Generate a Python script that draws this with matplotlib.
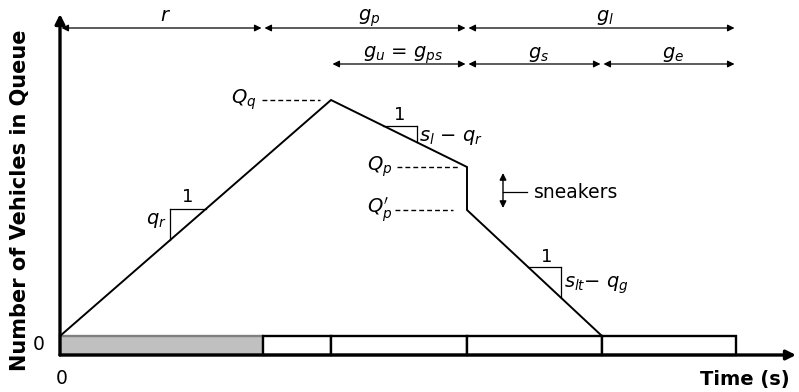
import matplotlib
matplotlib.use("Agg")
import matplotlib.pyplot as plt

plt.rcParams['font.family'] = ['DejaVu Sans']
plt.rcParams['mathtext.fontset'] = 'dejavusans'

# ---- data (time in arbitrary units, queue in vehicles) ----
phase_bounds = [0, 20.3, 40.7, 67.6]          # r | g_p | g_l
phase_labels = [r'$r$', r'$g_p$', r'$g_l$']
sub_bounds = [27.1, 40.7, 54.2, 67.6]          # g_u=g_ps | g_s | g_e
sub_labels = [r'$g_u$ = $g_{ps}$', r'$g_s$', r'$g_e$']
queue_t = [0, 27.1, 40.7, 40.7, 54.2]
queue_n = [0, 23.6, 16.9, 12.6, 0]
bar_edges = [0, 20.3, 27.1, 40.7, 54.2, 67.6]
bar_colors = ['#c0c0c0', 'white', 'white', 'white', 'white']
level_labels = [r'$Q_q$', r'$Q_p$', r"$Q_p^{\prime}$"]
level_values = [23.6, 16.9, 12.6]

fig = plt.figure(figsize=(7.99, 3.92), dpi=100)
ax = fig.add_axes([0, 0, 1, 1])
ax.set_xlim(-6.0, 73.9)
ax.set_ylim(-5.6, 33.6)
ax.axis('off')

bar_h = 1.9
# signal bars
for i in range(len(bar_edges) - 1):
    ec = '#808080' if i == 0 else 'black'
    ax.bar(bar_edges[i], bar_h, width=bar_edges[i + 1] - bar_edges[i], bottom=-bar_h,
           align='edge', color=bar_colors[i], edgecolor=ec, linewidth=1.7, zorder=2)

# axes arrows
ax.annotate('', xy=(0, 32.2), xytext=(0, -bar_h),
            arrowprops=dict(arrowstyle='-|>', lw=2.4, color='black', mutation_scale=14,
                            shrinkA=0, shrinkB=0), zorder=5)
ax.annotate('', xy=(73.6, -bar_h), xytext=(0, -bar_h),
            arrowprops=dict(arrowstyle='-|>', lw=2.4, color='black', mutation_scale=14,
                            shrinkA=0, shrinkB=0), zorder=5)

# queue polygon
ax.plot(queue_t, queue_n, color='black', lw=1.4, zorder=4, solid_joinstyle='miter')

# dimension arrows
def dim_row(bounds, labels, y, ty):
    for i in range(len(bounds) - 1):
        a, b = bounds[i], bounds[i + 1]
        ax.annotate('', xy=(b - 0.15, y), xytext=(a + 0.15, y),
                    arrowprops=dict(arrowstyle='<|-|>', lw=0.9, color='black',
                                    mutation_scale=10, shrinkA=0, shrinkB=0))
        ax.text((a + b) / 2 + 0.4, ty, labels[i], ha='center', va='baseline', fontsize=14)

dim_row(phase_bounds, phase_labels, 30.8, 31.5)
dim_row(sub_bounds, sub_labels, 27.2, 27.85)

# dashed level lines and labels
dash_x = [(20.2, 26.0), (33.7, 39.8), (33.5, 39.3)]
lab_x = [19.6, 33.2, 33.2]
for (x0, x1), v, lab, lx in zip(dash_x, level_values, level_labels, lab_x):
    ax.plot([x0, x1], [v, v], color='black', lw=1.0, ls=(0, (3.5, 2.2)))
    ax.text(lx, v, lab, ha='right', va='center', fontsize=14)

# slope triangles
def slope_tri(t0, n0, t1, n1, xa, xb, one_xy, lab, lab_xy, vert_at_left):
    s = (n1 - n0) / (t1 - t0)
    ya = n0 + s * (xa - t0)
    yb = n0 + s * (xb - t0)
    ytop = max(ya, yb)
    ybot = min(ya, yb)
    xv = xa if vert_at_left else xb
    ax.plot([xa, xb], [ytop, ytop], color='black', lw=0.9)
    ax.plot([xv, xv], [ytop, ybot], color='black', lw=0.9)
    ax.text(one_xy[0], one_xy[1], '1', ha='center', va='center', fontsize=13)
    ax.text(lab_xy[0], lab_xy[1], lab, ha=('right' if vert_at_left else 'left'),
            va='center', fontsize=14)

slope_tri(queue_t[0], queue_n[0], queue_t[1], queue_n[1], 11.0, 14.6,
          (12.8, 13.9), r'$q_r$', (10.7, 11.6), True)
slope_tri(queue_t[1], queue_n[1], queue_t[2], queue_n[2], 32.3, 35.7,
          (34.0, 22.1), r'$s_l$ $-$ $q_r$', (35.9, 19.9), False)
slope_tri(queue_t[3], queue_n[3], queue_t[4], queue_n[4], 46.8, 50.1,
          (48.7, 7.9), r'$s_{lt}$$-$ $q_g$', (50.4, 5.1), False)

# sneakers
ax.annotate('', xy=(44.3, 12.8), xytext=(44.3, 16.3),
            arrowprops=dict(arrowstyle='<|-|>', lw=1.0, color='black',
                            mutation_scale=10, shrinkA=0, shrinkB=0))
ax.plot([44.3, 46.7], [14.4, 14.4], color='black', lw=0.9)
ax.text(47.4, 14.4, 'sneakers', ha='left', va='center', fontsize=13.5)

# axis labels / ticks
ax.text(-1.5, -0.9, '0', ha='right', va='center', fontsize=13.5)
ax.text(0.2, -4.3, '0', ha='center', va='center', fontsize=13.5)
ax.text(73.0, -4.3, 'Time (s)', ha='right', va='center', fontsize=14, fontweight='bold')
ax.text(-4.0, 13.6, 'Number of Vehicles in Queue', rotation=90, ha='center', va='center',
        fontsize=15, fontweight='bold')

fig.savefig('out.png', dpi=100)
